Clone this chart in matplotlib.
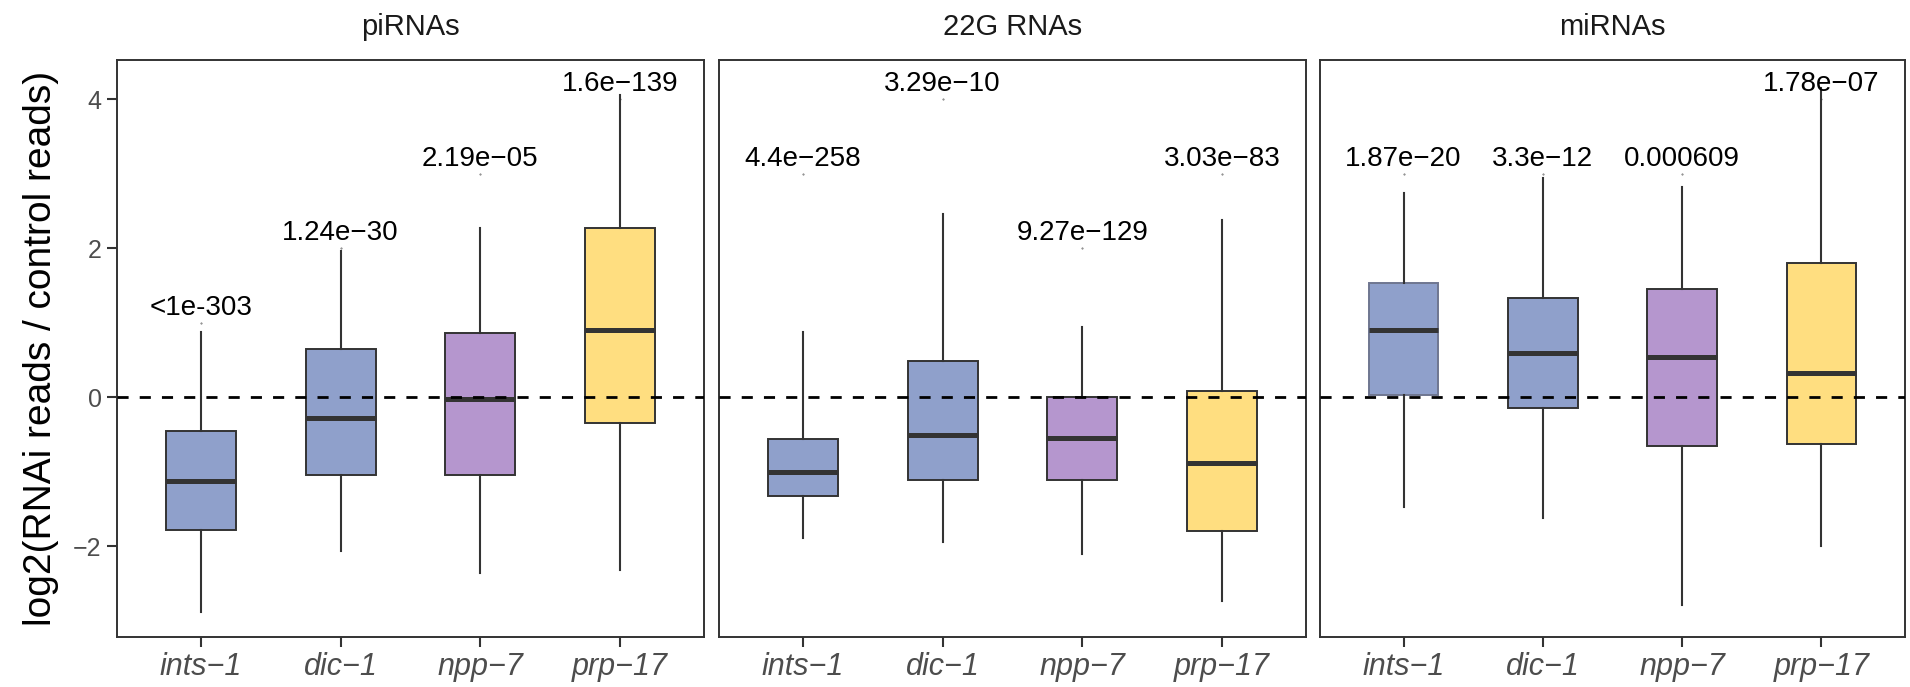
import matplotlib
matplotlib.use("Agg")
import matplotlib.pyplot as plt

plt.rcParams['font.family'] = ['Liberation Sans', 'DejaVu Sans']

# categories / panels
genes = ["ints\u22121", "dic\u22121", "npp\u22127", "prp\u221217"]
panels = ["piRNAs", "22G RNAs", "miRNAs"]
fill_colors = ["#8FA0CB", "#8FA0CB", "#B596CE", "#FFDE80"]

# box stats per panel: (whisker low, Q1, median, Q3, whisker high) for each gene
pi_stats = [(-2.88, -1.78, -1.12, -0.45, 0.87),
            (-2.06, -1.05, -0.28, 0.65, 1.96),
            (-2.36, -1.04, -0.03, 0.86, 2.28),
            (-2.32, -0.34, 0.90, 2.27, 4.06)]
g22_stats = [(-1.89, -1.32, -1.01, -0.56, 0.87),
             (-1.94, -1.11, -0.51, 0.49, 2.46),
             (-2.10, -1.11, -0.55, 0.00, 0.95),
             (-2.74, -1.79, -0.88, 0.09, 2.38)]
mi_stats = [(-1.47, 0.03, 0.90, 1.53, 2.74),
            (-1.62, -0.14, 0.59, 1.34, 2.95),
            (-2.79, -0.66, 0.54, 1.46, 2.83),
            (-2.00, -0.63, 0.32, 1.81, 4.16)]

# p-value labels and the y position they sit at
pi_pvals = ["<1e-303", "1.24e\u221230", "2.19e\u221205", "1.6e\u2212139"]
pi_pval_y = [1, 2, 3, 4]
g22_pvals = ["4.4e\u2212258", "3.29e\u221210", "9.27e\u2212129", "3.03e\u221283"]
g22_pval_y = [3, 4, 2, 3]
mi_pvals = ["1.87e\u221220", "3.3e\u221212", "0.000609", "1.78e\u221207"]
mi_pval_y = [3, 3, 3, 4]

all_stats = [pi_stats, g22_stats, mi_stats]
all_pvals = [pi_pvals, g22_pvals, mi_pvals]
all_pval_y = [pi_pval_y, g22_pval_y, mi_pval_y]

W, H = 1910, 687
fig = plt.figure(figsize=(W / 100, H / 100), dpi=100)

lefts = [117, 719, 1320]
widths = [587, 587, 585]
top, bottom = 60, 637

dark = "#333333"
gray = "#4D4D4D"

for p in range(3):
    ax = fig.add_axes([lefts[p] / W, 1 - bottom / H, widths[p] / W, (bottom - top) / H])
    bxp_data = []
    for i, s in enumerate(all_stats[p]):
        bxp_data.append({"whislo": s[0], "q1": s[1], "med": s[2], "q3": s[3],
                         "whishi": s[4], "fliers": [], "label": genes[i]})
    res = ax.bxp(bxp_data, positions=range(4), widths=0.5, patch_artist=True,
                 showcaps=False, showfliers=False,
                 boxprops=dict(edgecolor=dark, linewidth=1.4),
                 whiskerprops=dict(color=dark, linewidth=1.5),
                 medianprops=dict(color=dark, linewidth=3.6, solid_capstyle='butt'))
    for i, b in enumerate(res["boxes"]):
        b.set_facecolor(fill_colors[i])
        b.set_zorder(2)
    if p == 2:
        res["boxes"][0].set_edgecolor("#6F7690")
    for m in res["medians"]:
        m.set_zorder(3)

    ax.axhline(0, color="black", linewidth=2.0, linestyle=(0, (4, 4)), zorder=4)

    for i in range(4):
        yv = all_pval_y[p][i]
        ax.plot(i, yv, marker='.', markersize=0.8, color='#555555', zorder=1)
        ax.text(i, yv + 0.11, all_pvals[p][i], ha='center', va='baseline',
                fontsize=20, color='black', zorder=5)

    ax.set_xlim(-0.6, 3.6)
    ax.set_ylim(-3.22, 4.53)
    ax.set_xticks(range(4))
    ax.set_xticklabels(genes, fontsize=22, style='italic', color=gray)
    for sp in ax.spines.values():
        sp.set_color(dark)
        sp.set_linewidth(1.4)
    ax.tick_params(axis='both', length=7, width=1.5, color=dark, pad=4)
    if p == 0:
        ax.set_yticks([-2, 0, 2, 4])
        ax.set_yticklabels(["\u22122", "0", "2", "4"], fontsize=18, color=gray)
        ax.set_ylabel("log2(RNAi reads / control reads)", fontsize=28, color="black", labelpad=10)
    else:
        ax.set_yticks([])
    ax.text(0.5, 1.057, panels[p], transform=ax.transAxes, ha='center', va='center',
            fontsize=21, color="#1A1A1A")

fig.savefig("out.png", dpi=100)
